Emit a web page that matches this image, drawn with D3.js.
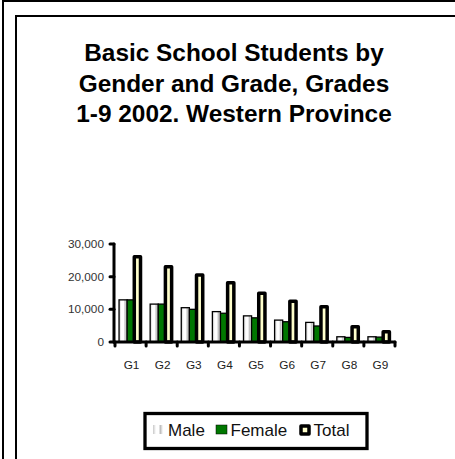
<!DOCTYPE html>
<html><head><meta charset="utf-8">
<script src="https://cdn.jsdelivr.net/npm/d3@7"></script>
<style>html,body{margin:0;padding:0;background:#fff;overflow:hidden}</style>
</head><body>
<script>
const grades = ["G1","G2","G3","G4","G5","G6","G7","G8","G9"];
const male   = [12900, 11600, 10500, 9300, 8000, 6700, 6000, 1600, 1600];
const female = [12900, 11600, 10000, 8800, 7400, 6200, 4900, 1400, 1500];
const total  = [26100, 23000, 20500, 18100, 14900, 12500, 10800, 4700, 3100];
const yTicks = [0, 10000, 20000, 30000];
const titleLines = ["Basic School Students by", "Gender and Grade, Grades", "1-9 2002. Western Province"];
const seriesNames = ["Male", "Female", "Total"];

const W = 455, H = 459;
const svg = d3.select("body").append("svg").attr("width", W).attr("height", H);
const defs = svg.append("defs");
const g1 = defs.append("linearGradient").attr("id","maleFill").attr("x1","0").attr("x2","1").attr("y1","0").attr("y2","0");
[["0%","#c8c8c8"],["30%","#ffffff"],["55%","#ffffff"],["75%","#c0c0c0"],["100%","#ffffff"]].forEach(s=>g1.append("stop").attr("offset",s[0]).attr("stop-color",s[1]));

// frames
svg.append("rect").attr("x",3).attr("y",1).attr("width",W+10).attr("height",H+10).attr("fill","none").attr("stroke","#000").attr("stroke-width",2);
svg.append("rect").attr("x",16).attr("y",16).attr("width",W+10).attr("height",H+10).attr("fill","none").attr("stroke","#000").attr("stroke-width",2);

// title
const title = svg.append("text").attr("text-anchor","middle").attr("font-family","Liberation Sans, Arial, sans-serif").attr("font-weight","bold").attr("font-size",24.4).attr("fill","#000");
titleLines.forEach((t,i)=>title.append("tspan").attr("x",234).attr("y",61+i*30.5).text(t));

const x = d3.scaleBand().domain(grades).range([115, 395]);
const y = d3.scaleLinear().domain([0,30000]).range([342, 244]);
const bw = x.bandwidth();

const data = grades.map((g,i)=>({g, m:male[i], f:female[i], t:total[i]}));
const plot = svg.append("g");
// male
plot.selectAll(".m").data(data).join("rect").attr("x",d=>x(d.g)+bw*0.13).attr("width",bw*0.26)
  .attr("y",d=>y(d.m)).attr("height",d=>y(0)-y(d.m)).attr("fill","url(#maleFill)").attr("stroke","#000").attr("stroke-width",1.3);
// female
plot.selectAll(".f").data(data).join("rect").attr("x",d=>x(d.g)+bw*0.39).attr("width",bw*0.25)
  .attr("y",d=>y(d.f)).attr("height",d=>y(0)-y(d.f)).attr("fill","#007700").attr("stroke","#000").attr("stroke-width",1.3);
// total
plot.selectAll(".t").data(data).join("rect").attr("x",d=>x(d.g)+bw*0.62).attr("width",bw*0.2)
  .attr("y",d=>y(d.t)).attr("height",d=>y(0)-y(d.t)).attr("fill","#ffffcc").attr("stroke","#000").attr("stroke-width",3.5).attr("stroke-linejoin","round");

// axes
const axG = svg.append("g").attr("stroke","#000").attr("stroke-width",3).attr("stroke-linecap","round");
axG.append("line").attr("x1",114).attr("x2",114).attr("y1",y(30000)).attr("y2",y(0));
axG.append("line").attr("x1",114).attr("x2",395).attr("y1",y(0)).attr("y2",y(0));
yTicks.forEach(v=>axG.append("line").attr("x1",110).attr("x2",114).attr("y1",y(v)).attr("y2",y(v)));
grades.forEach(g=>axG.append("line").attr("x1",x(g)).attr("x2",x(g)).attr("y1",y(0)).attr("y2",y(0)+4));
axG.append("line").attr("x1",395).attr("x2",395).attr("y1",y(0)).attr("y2",y(0)+4);

const fmt = d3.format(",");
svg.append("g").selectAll("text").data(yTicks).join("text").attr("x",104).attr("y",d=>y(d)).attr("dy","0.35em")
  .attr("text-anchor","end").attr("font-family","Liberation Sans, Arial, sans-serif").attr("font-size",11.8).attr("fill","#333").text(d=>fmt(d));
svg.append("g").selectAll("text").data(grades).join("text").attr("x",d=>x(d)+bw/2+1).attr("y",368.5)
  .attr("text-anchor","middle").attr("font-family","Liberation Sans, Arial, sans-serif").attr("font-size",11.8).attr("fill","#222").text(d=>d);

// legend
const lg = svg.append("g");
lg.append("rect").attr("x",145).attr("y",413.5).attr("width",222).attr("height",35).attr("fill","#fff").attr("stroke","#000").attr("stroke-width",3.3);
const lf = "Liberation Sans, Arial, sans-serif";
lg.append("rect").attr("x",153).attr("y",425).attr("width",10).attr("height",9).attr("fill","url(#maleFill)");
lg.append("text").attr("x",168).attr("y",436).attr("font-family",lf).attr("font-size",17).attr("fill","#111").text(seriesNames[0]);
lg.append("rect").attr("x",216).attr("y",425).attr("width",11).attr("height",9).attr("fill","#007700").attr("stroke","#000").attr("stroke-width",0.5);
lg.append("text").attr("x",230.5).attr("y",436).attr("font-family",lf).attr("font-size",17).attr("fill","#111").text(seriesNames[1]);
lg.append("rect").attr("x",301).attr("y",426).attr("width",8).attr("height",8).attr("fill","#ffffcc").attr("stroke","#000").attr("stroke-width",3.5).attr("stroke-linejoin","round");
lg.append("text").attr("x",313.5).attr("y",436).attr("font-family",lf).attr("font-size",17).attr("fill","#111").text(seriesNames[2]);
</script>
</body></html>
